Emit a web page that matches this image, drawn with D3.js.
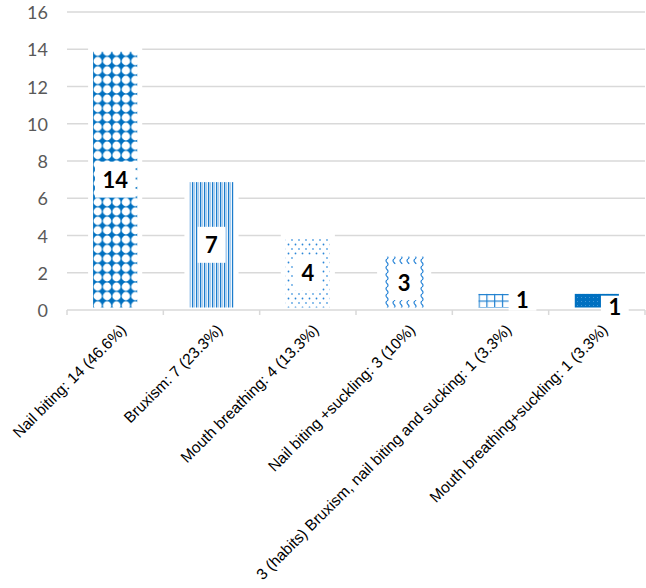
<!DOCTYPE html>
<html>
<head>
<meta charset="utf-8">
<script src="https://cdn.jsdelivr.net/npm/d3@7/dist/d3.min.js"></script>
<style>
  html, body { margin: 0; padding: 0; background: #fff; }
  svg { display: block; }
</style>
</head>
<body>
<svg id="chart" width="646" height="588"></svg>
<script>
// ---- Data ----
const names = [
  "Nail biting",
  "Bruxism",
  "Mouth breathing",
  "Nail biting +suckling",
  "3 (habits) Bruxism, nail biting and sucking",
  "Mouth breathing+suckling"
];
const values = [14, 7, 4, 3, 1, 1];
const percents = ["46.6%", "23.3%", "13.3%", "10%", "3.3%", "3.3%"];
const yTicks = [0, 2, 4, 6, 8, 10, 12, 14, 16];
const patternIds = ["p-diamond", "p-vstripe", "p-dots", "p-wave", "p-grid", "p-solid"];
// layout nudges for data labels (px), only for the tiny bars
const labelNudge = [[0, 0], [0, 0], [0, 0], [0, 0], [22, -1], [18, 6]];

const categories = names.map((n, i) => `${n}: ${values[i]} (${percents[i]})`);

const W = 646, H = 588;
const margin = { left: 67, right: 1, top: 12, bottom: 278 };
const svg = d3.select("#chart");
const blue = "#0070C0";

// ---- Patterns ----
const defs = svg.append("defs");
{
  const s = 9.4;
  const p = defs.append("pattern").attr("id", "p-diamond").attr("patternUnits", "userSpaceOnUse")
    .attr("width", s).attr("height", s).attr("x", 93).attr("y", 0);
  p.append("rect").attr("width", s).attr("height", s).attr("fill", blue);
  p.append("circle").attr("cx", s / 2).attr("cy", s / 2).attr("r", 4.15).attr("fill", "#fff");
}
{
  const p = defs.append("pattern").attr("id", "p-vstripe").attr("patternUnits", "userSpaceOnUse")
    .attr("width", 4).attr("height", 4);
  p.append("rect").attr("width", 4).attr("height", 4).attr("fill", "#ffffff");
  p.append("rect").attr("x", 0).attr("width", 1.2).attr("height", 4).attr("fill", "#1b7ccc");
  p.append("rect").attr("x", 1.2).attr("width", 2).attr("height", 4).attr("fill", "#a9cdee");
}
{
  const p = defs.append("pattern").attr("id", "p-dots").attr("patternUnits", "userSpaceOnUse")
    .attr("width", 7).attr("height", 9);
  p.append("rect").attr("width", 7).attr("height", 9).attr("fill", "#fff");
  p.append("circle").attr("cx", 1.5).attr("cy", 1.5).attr("r", 0.9).attr("fill", "#2a86d8");
  p.append("circle").attr("cx", 5).attr("cy", 6).attr("r", 0.9).attr("fill", "#5aa3e3");
}
{
  const p = defs.append("pattern").attr("id", "p-wave").attr("patternUnits", "userSpaceOnUse")
    .attr("width", 7).attr("height", 7);
  p.append("rect").attr("width", 7).attr("height", 7).attr("fill", "#fff");
  p.append("path").attr("d", "M2,0 Q0,1.75 2,3.5 T2,7").attr("fill", "none")
    .attr("stroke", "#2a86d8").attr("stroke-width", 1.2);
}
{
  const p = defs.append("pattern").attr("id", "p-grid").attr("patternUnits", "userSpaceOnUse")
    .attr("width", 7.8).attr("height", 6.5).attr("x", 478.5).attr("y", 294);
  p.append("rect").attr("width", 7.8).attr("height", 6.5).attr("fill", "#ffffff");
  p.append("path").attr("d", "M0.6,0 V6.5 M0,0.6 H7.8").attr("stroke", "#1f80d0").attr("stroke-width", 1.2);
}
{
  const p = defs.append("pattern").attr("id", "p-solid").attr("patternUnits", "userSpaceOnUse")
    .attr("width", 4).attr("height", 4);
  p.append("rect").attr("width", 4).attr("height", 4).attr("fill", blue);
  p.append("rect").attr("x", 1).attr("y", 1).attr("width", 0.8).attr("height", 0.8).attr("fill", "#6aaee6");
}

// ---- Scales ----
const x = d3.scaleBand().domain(categories).range([margin.left, W - margin.right])
  .paddingInner(0.49).paddingOuter(0.245);
const xb = d3.scaleBand().domain(categories).range([margin.left, W - margin.right]).padding(0);
const y = d3.scaleLinear().domain([0, 16]).range([H - margin.bottom, margin.top]);

// ---- Gridlines ----
svg.append("g").selectAll("line").data(yTicks.filter(t => t > 0)).join("line")
  .attr("x1", margin.left).attr("x2", W - margin.right)
  .attr("y1", d => y(d)).attr("y2", d => y(d))
  .attr("stroke", "#d9d9d9").attr("stroke-width", 1.5);

// ---- Y tick labels ----
svg.append("g").selectAll("text").data(yTicks).join("text")
  .attr("x", 48).attr("y", d => y(d))
  .attr("text-anchor", "end").attr("dominant-baseline", "central")
  .attr("font-family", "Lato, 'Open Sans', sans-serif").attr("font-size", 18)
  .attr("fill", "#595959").text(d => d);

// ---- Bars ----
svg.append("g").selectAll("rect").data(categories).join("rect")
  .attr("x", d => x(d)).attr("width", x.bandwidth())
  .attr("y", (d, i) => y(values[i])).attr("height", (d, i) => y(0) - y(values[i]))
  .attr("fill", (d, i) => `url(#${patternIds[i]})`)
  .attr("stroke", "#fff").attr("stroke-width", 5);

// ---- X axis ----
const xAxisG = svg.append("g").attr("transform", `translate(0,${y(0)})`);
xAxisG.append("line").attr("x1", margin.left).attr("x2", W - margin.right)
  .attr("stroke", "#d9d9d9").attr("stroke-width", 1.5);
const boundaries = categories.map(c => xb(c)).concat([W - margin.right]);
xAxisG.selectAll("line.tick").data(boundaries).join("line").attr("class", "tick")
  .attr("x1", d => d).attr("x2", d => d).attr("y1", 0).attr("y2", 5)
  .attr("stroke", "#d9d9d9").attr("stroke-width", 1.5);

// ---- X labels ----
svg.append("g").selectAll("text").data(categories).join("text")
  .attr("transform", d => `translate(${xb(d) + xb.bandwidth() / 2 + 4},${y(0) + 13}) rotate(-45)`)
  .attr("text-anchor", "end").attr("dy", "0.72em")
  .attr("font-family", "'Liberation Sans', Arial, sans-serif").attr("font-size", 15.5)
  .attr("fill", "#000").text(d => d);

// ---- Data labels ----
const lg = svg.append("g");
categories.forEach((c, i) => {
  const cx = x(c) + x.bandwidth() / 2 + labelNudge[i][0];
  const cy = (y(values[i]) + y(0)) / 2 + labelNudge[i][1];
  const g = lg.append("g");
  const rect = g.append("rect").attr("fill", "#fff");
  const t = g.append("text").attr("x", cx).attr("y", cy)
    .attr("text-anchor", "middle").attr("dominant-baseline", "central")
    .attr("font-family", "Lato, 'Open Sans', sans-serif").attr("font-weight", "bold")
    .attr("font-size", 22).attr("fill", "#000").text(values[i]);
  const tw = t.node().getComputedTextLength();
  const bw = tw + 15, bh = i >= 4 ? 22 : 36;
  rect.attr("x", cx - bw / 2).attr("y", cy - bh / 2).attr("width", bw).attr("height", bh);
});
</script>
</body>
</html>
